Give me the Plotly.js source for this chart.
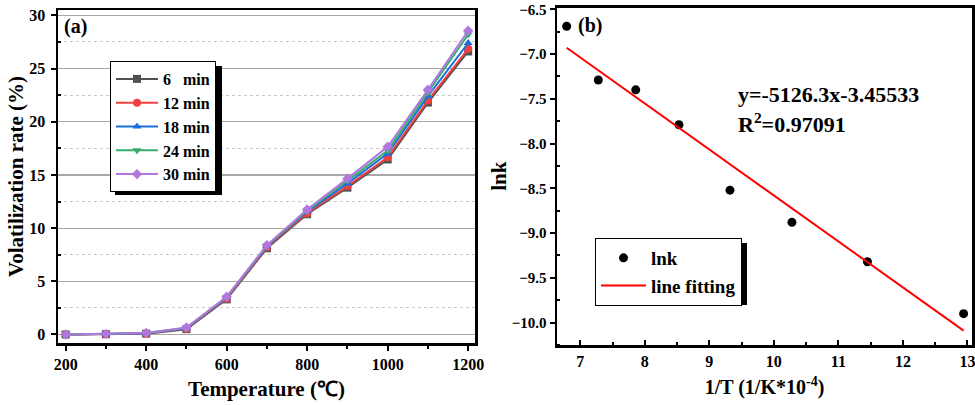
<!DOCTYPE html>
<html>
<head>
<meta charset="utf-8">
<script src="https://cdn.plot.ly/plotly-3.0.1.min.js"></script>
<style>html,body{margin:0;padding:0;background:#fff;}#chart{width:975px;height:405px;}</style>
</head>
<body>
<div id="chart"></div>
<script>
// ---- Panel (a) data ----
const temperature = [200, 300, 400, 500, 600, 700, 800, 900, 1000, 1100, 1200];
const rate6  = [0, 0.03, 0.08, 0.50, 3.30, 8.10, 11.30, 13.80, 16.45, 21.80, 26.60];
const rate12 = [0, 0.04, 0.10, 0.55, 3.35, 8.20, 11.40, 13.95, 16.65, 22.00, 26.85];
const rate18 = [0, 0.05, 0.12, 0.58, 3.45, 8.30, 11.55, 14.20, 17.00, 22.40, 27.40];
const rate24 = [0, 0.05, 0.13, 0.62, 3.50, 8.35, 11.65, 14.45, 17.30, 22.75, 28.20];
const rate30 = [0, 0.06, 0.15, 0.65, 3.55, 8.40, 11.75, 14.65, 17.65, 23.00, 28.55];
const seriesNames = ["6\u00a0\u00a0\u00a0min", "12 min", "18 min", "24 min", "30 min"];
const tempTicks = [200, 400, 600, 800, 1000, 1200];
const rateTicks = [0, 5, 10, 15, 20, 25, 30];

// ---- Panel (b) data ----
const invT = [6.79, 7.28, 7.86, 8.53, 9.32, 10.28, 11.45, 12.94];
const lnk  = [-6.69, -7.29, -7.40, -7.79, -8.52, -8.88, -9.32, -9.90];
const fitX = [6.79, 12.94];
const fitY = [-6.93, -10.09];
const invTTicks = [7, 8, 9, 10, 11, 12, 13];
const lnkTicks = [-6.5, -7.0, -7.5, -8.0, -8.5, -9.0, -9.5, -10.0];

const FONT = "Liberation Serif, Times New Roman, serif";
const W = 975, H = 405;
const colors = ["#515151", "#F14040", "#1A6FDF", "#37AD6B", "#B177DE"];
const symbols = ["square", "circle", "triangle-up", "triangle-down", "diamond"];
const allRates = [rate6, rate12, rate18, rate24, rate30];

const traces = allRates.map((r, i) => ({
  x: temperature, y: r, type: "scatter", mode: "lines+markers",
  name: seriesNames[i], xaxis: "x", yaxis: "y", legend: "legend",
  line: {color: colors[i], width: 2},
  marker: {color: colors[i], symbol: symbols[i], size: 8}
}));
traces.push({
  x: invT, y: lnk, type: "scatter", mode: "markers", name: "lnk",
  xaxis: "x2", yaxis: "y2", legend: "legend2",
  marker: {color: "#000", size: 9, symbol: "circle"}
});
traces.push({
  x: fitX, y: fitY, type: "scatter", mode: "lines", name: "line fitting",
  xaxis: "x2", yaxis: "y2", legend: "legend2",
  line: {color: "#FF0000", width: 2}
});

const px = v => v / W;
const py = v => 1 - v / H;
const mids = a => a.slice(1).map((v, i) => (v + a[i]) / 2);
const bold = s => ({family: FONT, size: s, color: "#000", weight: "bold"});
// drop shadow rectangle in pixel units (left, top, right, bottom)
const shadow = (l, t, r, b) => ({type: "rect", xref: "paper", yref: "paper",
  x0: px(l), x1: px(r), y0: py(b), y1: py(t), fillcolor: "#000", line: {width: 0}, layer: "above"});

const layout = {
  width: W, height: H,
  margin: {l: 0, r: 0, t: 0, b: 0},
  paper_bgcolor: "#fff", plot_bgcolor: "#fff",
  font: {family: FONT, color: "#000"},
  showlegend: true,
  xaxis: {
    domain: [px(58), px(475)], range: [181, 1217], anchor: "y",
    tickvals: tempTicks, ticklabeloverflow: "allow",
    ticks: "outside", ticklen: 5, tickwidth: 2, tickcolor: "#000",
    minor: {tickvals: mids(tempTicks), ticks: "outside", ticklen: 3, tickwidth: 2, tickcolor: "#000", showgrid: false},
    showline: true, linecolor: "#000", linewidth: 2.5, mirror: true,
    showgrid: false, zeroline: false, tickfont: bold(16),
    title: {text: "Temperature (\u2103)", font: bold(21), standoff: 10}
  },
  yaxis: {
    domain: [1 - 343 / H, 1 - 10 / H], range: [-0.8, 30.5], anchor: "x",
    tickvals: rateTicks, ticklabeloverflow: "allow",
    ticks: "outside", ticklen: 5, tickwidth: 2, tickcolor: "#000", ticklabelstandoff: 2,
    minor: {tickvals: mids(rateTicks), ticks: "inside", ticklen: 3, tickwidth: 2, tickcolor: "#000",
            showgrid: true, gridcolor: "#c8c8c8", griddash: "dot", gridwidth: 1},
    showline: true, linecolor: "#000", linewidth: 2.5, mirror: true,
    showgrid: true, gridcolor: "#a8a8a8", gridwidth: 1.2, zeroline: false, tickfont: bold(16),
    title: {text: "Volatilization rate (%)", font: bold(21), standoff: 0}
  },
  xaxis2: {
    domain: [px(557), px(972)], range: [6.64, 13.07], anchor: "y2",
    tickvals: invTTicks, ticklabeloverflow: "allow",
    ticks: "inside", ticklen: 5, tickwidth: 2, tickcolor: "#000",
    minor: {tickvals: mids(invTTicks), ticks: "inside", ticklen: 3, tickwidth: 2, tickcolor: "#000", showgrid: false},
    showline: true, linecolor: "#000", linewidth: 2.5, mirror: true,
    showgrid: false, zeroline: false, tickfont: bold(16),
    title: {text: "1/T (1/K*10<sup>-4</sup>)", font: bold(20), standoff: 12}
  },
  yaxis2: {
    domain: [1 - 345 / H, 1 - 7.5 / H], range: [-10.25, -6.48], anchor: "x2",
    tickvals: lnkTicks, tickformat: ".1f", ticklabeloverflow: "allow",
    ticks: "outside", ticklen: 5, tickwidth: 2, tickcolor: "#000",
    minor: {tickvals: mids(lnkTicks).concat([-10.25]), ticks: "inside", ticklen: 3, tickwidth: 2, tickcolor: "#000", showgrid: false},
    showline: true, linecolor: "#000", linewidth: 2.5, mirror: true,
    showgrid: false, zeroline: false, tickfont: bold(15),
    title: {text: "lnk", font: bold(21), standoff: 0}
  },
  legend: {
    x: px(110), y: py(61), xanchor: "left", yanchor: "top", xref: "paper", yref: "paper",
    bgcolor: "#fff", bordercolor: "#000", borderwidth: 1,
    font: bold(16),
    itemwidth: 42, tracegroupgap: 0, traceorder: "normal"
  },
  legend2: {
    x: px(595), y: py(238), xanchor: "left", yanchor: "top", xref: "paper", yref: "paper",
    bgcolor: "#fff", bordercolor: "#000", borderwidth: 1,
    font: bold(19),
    itemwidth: 45, tracegroupgap: 0, traceorder: "normal"
  },
  shapes: [
    shadow(115, 66, 222, 195),
    shadow(600, 243, 747, 305)
  ],
  annotations: [
    {text: "(a)", xref: "paper", yref: "paper", x: px(62), y: py(27), xanchor: "left", yanchor: "middle",
     showarrow: false, font: bold(20)},
    {text: "(b)", xref: "paper", yref: "paper", x: px(576), y: py(25), xanchor: "left", yanchor: "middle",
     showarrow: false, font: bold(20)},
    {text: "y=-5126.3x-3.45533", xref: "paper", yref: "paper", x: px(736), y: py(95), xanchor: "left", yanchor: "middle",
     showarrow: false, font: bold(22)},
    {text: "R<sup>2</sup>=0.97091", xref: "paper", yref: "paper", x: px(736), y: py(123), xanchor: "left", yanchor: "middle",
     showarrow: false, font: bold(22)}
  ]
};

Plotly.newPlot("chart", traces, layout, {displayModeBar: false, staticPlot: true});
</script>
</body>
</html>
